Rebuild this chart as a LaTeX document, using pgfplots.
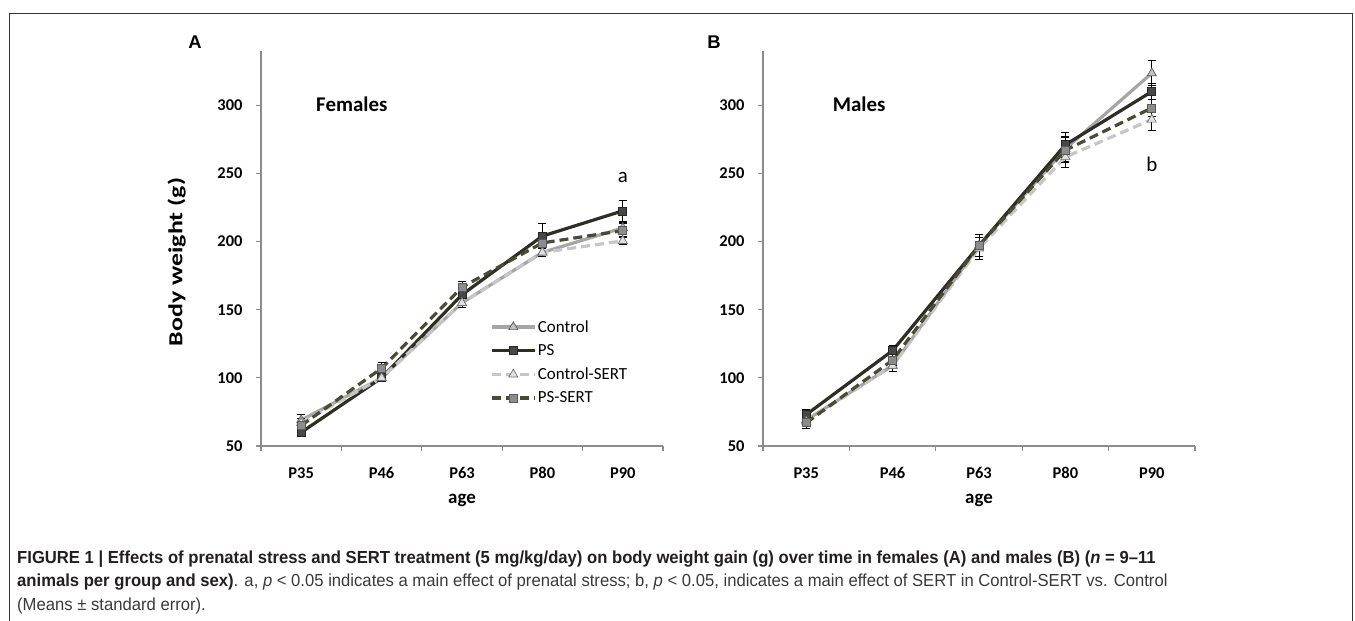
\documentclass[border=0pt]{standalone}
\usepackage{pgfplots}
\pgfplotsset{compat=1.18}
\usepackage{fontspec}
\setmainfont{Carlito}
\newfontfamily\arialfont{Liberation Sans}
\newfontfamily\capfont[FakeStretch=0.955]{Liberation Sans}

\definecolor{ctrl}{HTML}{A6A6A6}
\definecolor{ps}{HTML}{2E2E24}
\definecolor{csert}{HTML}{C6C6C6}
\definecolor{pssert}{HTML}{4A4B32}
\definecolor{axisgray}{HTML}{8C8C8C}
\definecolor{capbold}{HTML}{231F20}
\definecolor{capreg}{HTML}{3A3A3A}
\definecolor{frame}{HTML}{333333}

\pgfplotsset{
  bw/.style={
    scale only axis, height=395.3bp,
    ymin=50, ymax=340, xmin=-0.5, xmax=4.5,
    axis x line*=bottom, axis y line*=left,
    axis line style={draw=axisgray, line width=1.2bp, -},
    ytick={50,100,...,300}, minor ytick={50,100,...,300},
    xtick={0,...,4}, xticklabels={P35,P46,P63,P80,P90},
    minor xtick={-0.5,0.5,...,4.5},
    major tick length=0pt, minor tick length=5bp, tick align=outside,
    minor tick style={draw=axisgray, line width=1.2bp},
    /pgf/number format/assume math mode=true,
    ticklabel style={font=\bfseries\fontsize{16.5}{18}\selectfont},
    yticklabel style={xshift=-15bp},
    xticklabel style={yshift=-18bp},
    xlabel={age},
    xlabel style={font=\bfseries\fontsize{19}{21}\selectfont, at={(axis description cs:0.5,-0.137)}, anchor=center},
    clip=false,
    error bars/y dir=both, error bars/y explicit,
    error bars/error bar style={black, line width=0.9bp, solid},
    error bars/error mark options={black, rotate=90, mark size=4bp, line width=0.9bp, solid},
    legend image code/.code={
      \draw[#1, mark repeat=2, mark phase=2] plot coordinates {(0bp,0bp) (21.5bp,0bp) (43bp,0bp)};
    },
  },
  sctrl/.style={color=ctrl, line width=3.2bp, solid, mark=triangle*, mark size=5.2bp,
    mark options={solid, fill=ctrl!70!white, draw=black!65, line width=0.7bp}},
  sps/.style={color=ps, line width=3.2bp, solid, mark=square*, mark size=4bp,
    mark options={solid, fill=black!72, draw=black!85, line width=0.7bp}},
  scsert/.style={color=csert, line width=3.2bp, dash pattern=on 9bp off 5bp, mark=triangle*, mark size=5.2bp,
    mark options={solid, fill=black!12, draw=black!55, line width=0.7bp}},
  spssert/.style={color=pssert, line width=3.2bp, dash pattern=on 9bp off 5bp, mark=square*, mark size=4bp,
    mark options={solid, fill=black!45, draw=black!65, line width=0.7bp}},
}

\begin{document}
\begin{tikzpicture}
% frame
\draw[frame, line width=1.3bp] (9.5bp,-10bp) -- (9.5bp,607.5bp) -- (1352.5bp,607.5bp) -- (1352.5bp,-10bp);

% Panel A
\begin{axis}[bw, width=402bp, at={(261bp,175bp)}, anchor=south west,
  ylabel={\scalebox{1.3}[1]{Body weight  (g)}},
  ylabel style={font=\bfseries\fontsize{20}{22}\selectfont, at={(axis description cs:-0.21,0.4655)}, anchor=center},
  legend style={at={(0.5697,0.322)}, anchor=north west, draw=none, fill=none,
    font=\fontsize{17}{19}\selectfont, row sep=7.8bp, inner sep=0pt,
    nodes={inner sep=1.5bp}},
  legend cell align=left]
\addplot[sctrl] coordinates {(0,69) +- (0,4) (1,100) +- (0,3) (2,155) +- (0,3) (3,192) +- (0,3) (4,210) +- (0,4)};
\addlegendentry{Control}
\addplot[sps] coordinates {(0,60) +- (0,3) (1,100) +- (0,3) (2,161) +- (0,3) (3,204) +- (0,9) (4,222.5) +- (0,7.5)};
\addlegendentry{PS}
\addplot[scsert] coordinates {(0,67) +- (0,3) (1,100) +- (0,3) (2,155) +- (0,3) (3,192) +- (0,3) (4,200.5) +- (0,3)};
\addlegendentry{Control-SERT}
\addplot[spssert] coordinates {(0,65) +- (0,3) (1,107) +- (0,4) (2,166.5) +- (0,4) (3,199) +- (0,4) (4,208) +- (0,5)};
\addlegendentry{PS-SERT}
\node[anchor=west, font=\bfseries\fontsize{21}{24}\selectfont] at (axis cs:0.143,301) {Females};
\node[font=\fontsize{21}{24}\selectfont] at (axis cs:4,247) {a};
\end{axis}

% Panel B
\begin{axis}[bw, width=432bp, at={(763bp,175bp)}, anchor=south west]
\addplot[sctrl] coordinates {(0,69) +- (0,4) (1,109) +- (0,4) (2,197) +- (0,8) (3,268) +- (0,9) (4,323.5) +- (0,9)};
\addplot[sps] coordinates {(0,73) +- (0,4) (1,120) +- (0,4) (2,197) +- (0,8) (3,271) +- (0,9) (4,310) +- (0,6)};
\addplot[scsert] coordinates {(0,68) +- (0,4) (1,109) +- (0,4) (2,195) +- (0,8) (3,262) +- (0,8) (4,289.5) +- (0,8)};
\addplot[spssert] coordinates {(0,67) +- (0,4) (1,113) +- (0,4) (2,197) +- (0,8) (3,267) +- (0,9) (4,298) +- (0,6)};
\node[anchor=west, font=\bfseries\fontsize{21}{24}\selectfont] at (axis cs:0.267,301) {Males};
\node[font=\fontsize{21}{24}\selectfont] at (axis cs:4,257) {b};
\end{axis}

% panel letters
\node[font=\arialfont\bfseries\fontsize{18.5}{20}\selectfont] at (195bp,579.3bp) {A};
\node[font=\arialfont\bfseries\fontsize{18.5}{20}\selectfont] at (714bp,579.3bp) {B};

% caption
\node[anchor=base west, inner sep=0pt, font=\capfont\fontsize{17.5}{21}\selectfont, text=capbold] at (17bp,57.7bp)
  {\bfseries FIGURE 1 | Effects of prenatal stress and SERT treatment (5 mg/kg/day) on body weight gain (g) over time in females (A) and males (B) (\textit{n} = 9–11};
\node[anchor=base west, inner sep=0pt, font=\capfont\fontsize{17.5}{21}\selectfont, text=capreg] at (17bp,34.3bp)
  {{\bfseries\color{capbold}animals per group and sex)}. a, \textit{p} < 0.05 indicates a main effect of prenatal stress; b, \textit{p} < 0.05, indicates a main effect of SERT in Control-SERT vs. Control};
\node[anchor=base west, inner sep=0pt, font=\capfont\fontsize{17.5}{21}\selectfont, text=capreg] at (17bp,11bp)
  {(Means ± standard error).};

\pgfresetboundingbox
\useasboundingbox (0bp,0bp) rectangle (1355bp,621bp);
\end{tikzpicture}
\end{document}
